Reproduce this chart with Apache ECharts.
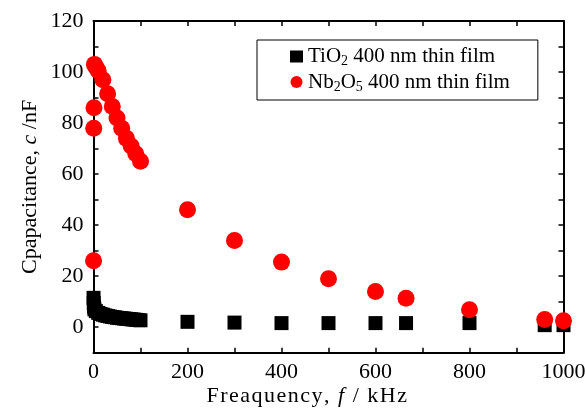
<!DOCTYPE html>
<html>
<head>
<meta charset="utf-8">
<script src="https://cdn.jsdelivr.net/npm/echarts@6/dist/echarts.min.js"></script>
<style>html,body{margin:0;padding:0;background:#fff}#c{width:585px;height:412px}</style>
</head>
<body>
<div id="c"></div>
<script>
// Frequency (kHz) and capacitance (nF)
var tioFreq = [0.1, 0.5, 1, 2, 5, 10, 15, 20, 25, 30, 35, 40, 45, 50, 55, 60, 65, 70, 75, 80, 85, 90, 95, 100, 200, 300, 400, 500, 600, 665, 800, 960, 1000];
var tioCap  = [11.5, 9.5, 8, 7, 6.3, 5.6, 5.2, 4.9, 4.6, 4.4, 4.2, 4.0, 3.9, 3.7, 3.6, 3.5, 3.4, 3.3, 3.2, 3.1, 3.0, 2.9, 2.8, 2.7, 2.1, 1.8, 1.6, 1.6, 1.6, 1.6, 1.6, 0.8, 0.8];
var nbFreq = [0.1, 0.5, 1, 2, 5, 10, 20, 30, 40, 50, 60, 70, 80, 90, 100, 200, 300, 400, 500, 600, 665, 800, 960, 1000];
var nbCap  = [26, 78, 86, 103, 102, 100.5, 97, 91.5, 86.5, 82, 78, 74, 71, 68, 65, 46, 34, 25.5, 19, 14, 11.3, 6.8, 3, 2.5];
var xTicks = [0, 200, 400, 600, 800, 1000];
var yTicks = [0, 20, 40, 60, 80, 100, 120];
var seriesNames = ['TiO2 400 nm thin film', 'Nb2O5 400 nm thin film'];

function pairs(xs, ys) { return xs.map(function (x, i) { return [x, ys[i]]; }); }
// spaced-out text: each character as its own rich token
function spaced(str, style) { return str.split('').map(function (ch) { return '{' + style + '|' + ch + '}'; }).join(''); }

var FONT = 'Liberation Serif';
var axisLine = { show: true, onZero: false, lineStyle: { color: '#000', width: 2 } };
var tick = { show: true, inside: true, length: 5, lineStyle: { color: '#000', width: 1.5 } };

var chart = echarts.init(document.getElementById('c'), null, { renderer: 'canvas' });
chart.setOption({
  animation: false,
  backgroundColor: '#fff',
  grid: { left: 93.5, right: 21.5, top: 21, bottom: 59.3, outerBoundsMode: 'none', containLabel: false },
  legend: {
    orient: 'vertical',
    left: 257, top: 40,
    padding: [6, 28, 6, 33],
    borderColor: '#000', borderWidth: 1,
    itemWidth: 13, itemHeight: 12, itemGap: 3,
    data: [{ name: seriesNames[0], icon: 'rect' }, { name: seriesNames[1], icon: 'circle' }],
    formatter: function (n) {
      if (n === seriesNames[0]) return '{n|TiO}{s|2}{n| 400 nm thin film}';
      return '{n|Nb}{s|2}{n|O}{s|5}{n| 400 nm thin film}';
    },
    textStyle: {
      color: '#000', fontFamily: FONT, fontSize: 21,
      rich: {
        n: { fontFamily: FONT, fontSize: 21, color: '#000' },
        s: { fontFamily: FONT, fontSize: 14, color: '#000', padding: [10, 0, 0, 0] }
      }
    }
  },
  xAxis: [{
    type: 'value', min: 0, max: 1000, interval: 100,
    name: spaced('Freaquency, ', 'n') + spaced('f', 'i') + spaced(' / kHz', 'n'),
    nameLocation: 'middle', nameGap: 33, nameMoveOverlap: false,
    nameTextStyle: {
      fontFamily: FONT, fontSize: 22, color: '#000', padding: [0, 42, 0, 0],
      rich: {
        n: { fontFamily: FONT, fontSize: 22, color: '#000', padding: [0, 1.5, 0, 0] },
        i: { fontFamily: FONT, fontSize: 22, fontStyle: 'italic', color: '#000', padding: [0, 1.5, 0, 0] }
      }
    },
    axisLine: axisLine, axisTick: tick, splitLine: { show: false },
    axisLabel: {
      margin: 9, fontFamily: FONT, fontSize: 22, color: '#000',
      formatter: function (v) { return xTicks.indexOf(v) >= 0 ? String(v) : ''; }
    }
  }, {
    type: 'value', position: 'top', min: 0, max: 1000, interval: 100,
    axisLine: axisLine, axisTick: tick, axisLabel: { show: false }, splitLine: { show: false }
  }],
  yAxis: [{
    type: 'value', min: -10, max: 120, interval: 10,
    name: '{n|Cpapacitance, }{i|c}{n| /nF}',
    nameLocation: 'middle', nameGap: 52, nameRotate: 90, nameMoveOverlap: false,
    nameTextStyle: {
      fontFamily: FONT, fontSize: 22, color: '#000',
      rich: { n: { fontFamily: FONT, fontSize: 22, color: '#000' }, i: { fontFamily: FONT, fontSize: 22, fontStyle: 'italic', color: '#000' } }
    },
    axisLine: axisLine, axisTick: tick, splitLine: { show: false },
    axisLabel: {
      margin: 10, fontFamily: FONT, fontSize: 22, color: '#000',
      formatter: function (v) { return yTicks.indexOf(v) >= 0 ? String(v) : ''; }
    }
  }, {
    type: 'value', position: 'right', min: -10, max: 120, interval: 10,
    axisLine: axisLine, axisTick: tick, axisLabel: { show: false }, splitLine: { show: false }
  }],
  series: [{
    name: seriesNames[0], type: 'scatter', symbol: 'rect', symbolSize: 14,
    itemStyle: { color: '#000', opacity: 1 }, data: pairs(tioFreq, tioCap), z: 2
  }, {
    name: seriesNames[1], type: 'scatter', symbol: 'circle', symbolSize: 17,
    itemStyle: { color: '#ff0000', opacity: 1 }, data: pairs(nbFreq, nbCap), z: 3
  }]
});
</script>
</body>
</html>
